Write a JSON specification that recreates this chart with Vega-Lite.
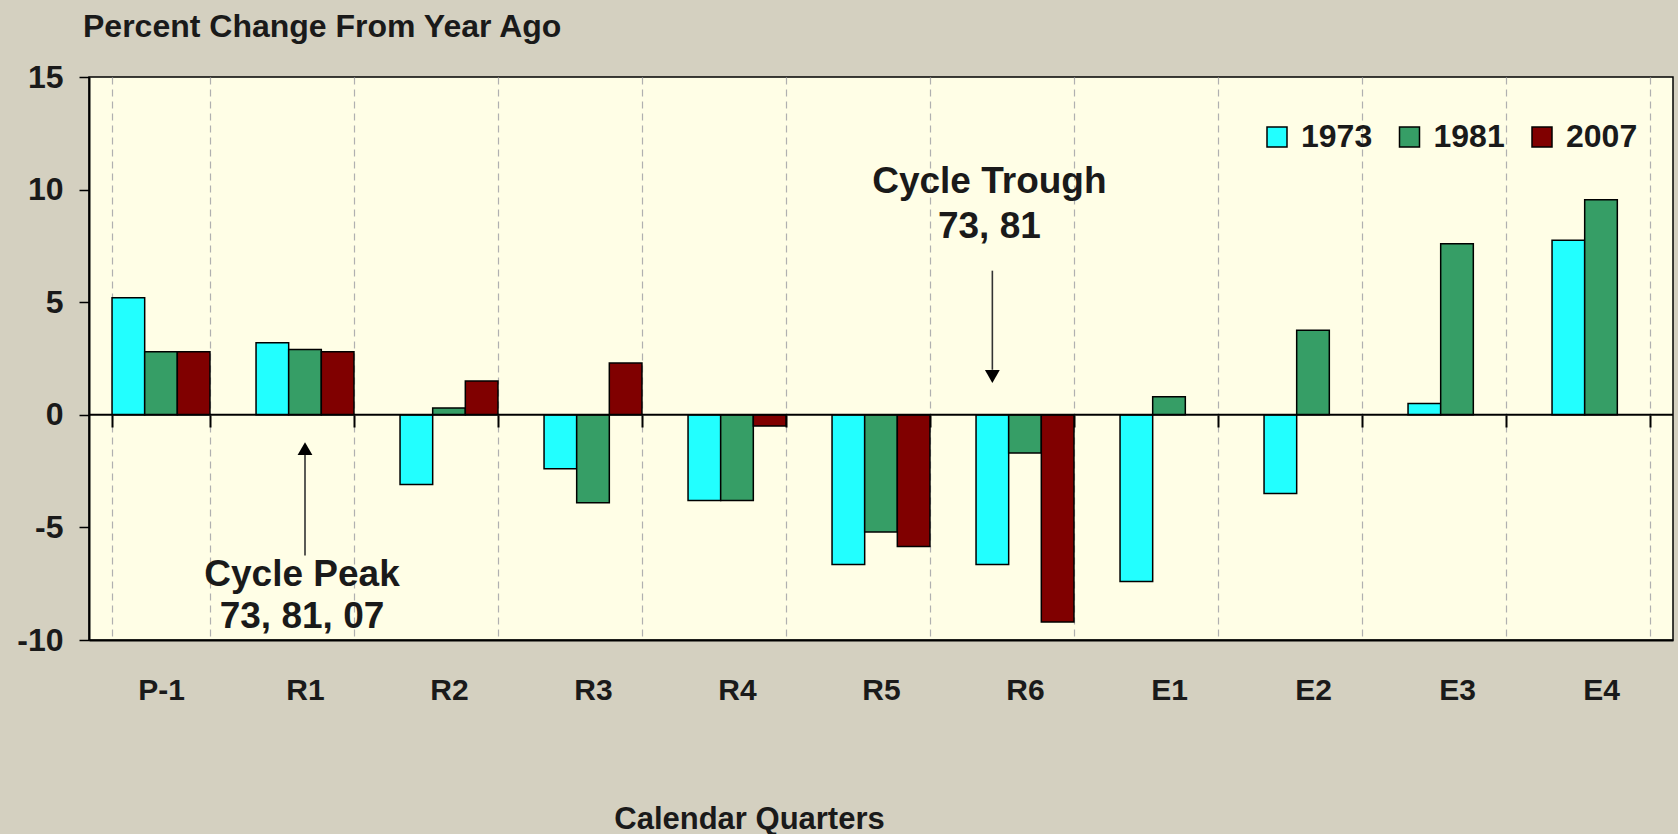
{
  "$schema": "https://vega.github.io/schema/vega-lite/v6.json",
  "width": 1584,
  "height": 563,
  "autosize": {"type": "none"},
  "padding": {"left": 89, "top": 77, "right": 5, "bottom": 194},
  "background": "#d4d0c0",
  "config": {
    "view": {"fill": "#fffee6", "stroke": "#000000", "strokeWidth": 1.5},
    "font": "Liberation Sans"
  },
  "title": {
    "text": "Percent Change From Year Ago",
    "anchor": "start",
    "frame": "group",
    "fontSize": 32,
    "fontWeight": "bold",
    "font": "Liberation Sans",
    "color": "#1a1a1a",
    "baseline": "alphabetic",
    "offset": -8,
    "dx": -6
  },
  "datasets": {
    "bars": [
      {"quarter": "P-1", "series": "1973", "value": 5.2},
      {"quarter": "P-1", "series": "1981", "value": 2.8},
      {"quarter": "P-1", "series": "2007", "value": 2.8},
      {"quarter": "R1", "series": "1973", "value": 3.2},
      {"quarter": "R1", "series": "1981", "value": 2.9},
      {"quarter": "R1", "series": "2007", "value": 2.8},
      {"quarter": "R2", "series": "1973", "value": -3.1},
      {"quarter": "R2", "series": "1981", "value": 0.3},
      {"quarter": "R2", "series": "2007", "value": 1.5},
      {"quarter": "R3", "series": "1973", "value": -2.4},
      {"quarter": "R3", "series": "1981", "value": -3.9},
      {"quarter": "R3", "series": "2007", "value": 2.3},
      {"quarter": "R4", "series": "1973", "value": -3.8},
      {"quarter": "R4", "series": "1981", "value": -3.8},
      {"quarter": "R4", "series": "2007", "value": -0.5},
      {"quarter": "R5", "series": "1973", "value": -6.65},
      {"quarter": "R5", "series": "1981", "value": -5.2},
      {"quarter": "R5", "series": "2007", "value": -5.85},
      {"quarter": "R6", "series": "1973", "value": -6.65},
      {"quarter": "R6", "series": "1981", "value": -1.7},
      {"quarter": "R6", "series": "2007", "value": -9.2},
      {"quarter": "E1", "series": "1973", "value": -7.4},
      {"quarter": "E1", "series": "1981", "value": 0.8},
      {"quarter": "E2", "series": "1973", "value": -3.5},
      {"quarter": "E2", "series": "1981", "value": 3.75},
      {"quarter": "E3", "series": "1973", "value": 0.5},
      {"quarter": "E3", "series": "1981", "value": 7.6},
      {"quarter": "E4", "series": "1973", "value": 7.75},
      {"quarter": "E4", "series": "1981", "value": 9.55}
    ],
    "labels": [
      {"quarter": "R1", "series": "1981", "text": "Cycle Peak", "value": -7.1},
      {"quarter": "R1", "series": "1981", "text": "73, 81, 07", "value": -9.0},
      {"quarter": "R6", "series": "1973", "text": "Cycle Trough", "value": 10.35},
      {"quarter": "R6", "series": "1973", "text": "73, 81", "value": 8.35}
    ],
    "arrows": [
      {"quarter": "R1", "series": "1981", "from": -6.25, "to": -1.7},
      {"quarter": "R6", "series": "1973", "from": 6.4, "to": 2.0}
    ],
    "heads": [
      {"quarter": "R1", "series": "1981", "value": -1.5, "dir": "up"},
      {"quarter": "R6", "series": "1973", "value": 1.7, "dir": "down"}
    ],
    "zero": [{"value": 0}]
  },
  "resolve": {"axis": {"x": "independent"}},
  "layer": [
    {
      "data": {"name": "bars"},
      "mark": {"type": "bar", "stroke": "#000000", "strokeWidth": 1.5},
      "encoding": {
        "x": {
          "field": "quarter",
          "type": "nominal",
          "sort": null,
          "scale": {
            "domain": ["P-1", "R1", "R2", "R3", "R4", "R5", "R6", "E1", "E2", "E3", "E4"],
            "paddingInner": 0.32,
            "paddingOuter": 0.16
          },
          "axis": {
            "title": "Calendar Quarters",
            "titleFontSize": 31,
            "titleFontWeight": "bold",
            "titleColor": "#1a1a1a",
            "titleX": 660,
            "titleY": 179,
            "titleAlign": "center",
            "titleBaseline": "middle",
            "labelAngle": 0,
            "labelFontSize": 30,
            "labelFontWeight": "bold",
            "labelColor": "#1a1a1a",
            "labelBaseline": "middle",
            "labelPadding": 50,
            "ticks": false,
            "domain": true,
            "domainColor": "#000000",
            "domainWidth": 2,
            "grid": true,
            "gridDash": [7, 5],
            "gridColor": "#b0b0b0",
            "gridWidth": 1.2,
            "tickBand": "extent"
          }
        },
        "xOffset": {
          "field": "series",
          "type": "nominal",
          "scale": {"domain": ["1973", "1981", "2007"], "paddingInner": 0, "paddingOuter": 0}
        },
        "y": {
          "field": "value",
          "type": "quantitative",
          "scale": {"domain": [-10, 15], "nice": false, "zero": false},
          "axis": {
            "title": null,
            "values": [-10, -5, 0, 5, 10, 15],
            "labelExpr": "'' + datum.value",
            "labelFontSize": 32,
            "labelFontWeight": "bold",
            "labelColor": "#1a1a1a",
            "labelPadding": 16,
            "tickSize": 10,
            "tickColor": "#000000",
            "tickWidth": 1.5,
            "domainColor": "#000000",
            "domainWidth": 2,
            "grid": false
          }
        },
        "color": {
          "field": "series",
          "type": "nominal",
          "scale": {"domain": ["1973", "1981", "2007"], "range": ["#22ffff", "#369e66", "#800000"]},
          "legend": {
            "title": null,
            "orient": "none",
            "direction": "horizontal",
            "legendX": 1172,
            "legendY": 44,
            "symbolType": "square",
            "symbolSize": 400,
            "symbolStrokeColor": "#000000",
            "symbolStrokeWidth": 1.5,
            "symbolOpacity": 1,
            "labelFontSize": 32,
            "labelFontWeight": "bold",
            "labelColor": "#1a1a1a",
            "labelOffset": 8,
            "columnPadding": 20.5
          }
        }
      }
    },
    {
      "data": {"name": "zero"},
      "mark": {"type": "rule", "color": "#000000", "strokeWidth": 2},
      "encoding": {
        "y": {"field": "value", "type": "quantitative"}
      }
    },
    {
      "data": {"name": "arrows"},
      "mark": {"type": "rule", "color": "#333333", "strokeWidth": 1.6},
      "encoding": {
        "x": {
          "field": "quarter",
          "type": "nominal",
          "sort": null,
          "scale": {"domain": ["P-1", "R1", "R2", "R3", "R4", "R5", "R6", "E1", "E2", "E3", "E4"]},
          "axis": {
            "orient": "bottom",
            "offset": -225,
            "labels": false,
            "title": null,
            "domain": false,
            "grid": false,
            "ticks": true,
            "tickSize": 12,
            "tickColor": "#000000",
            "tickWidth": 2,
            "tickBand": "extent"
          }
        },
        "xOffset": {"field": "series", "type": "nominal", "scale": {"domain": ["1973", "1981", "2007"]}},
        "y": {"field": "from", "type": "quantitative"},
        "y2": {"field": "to"}
      }
    },
    {
      "data": {"name": "heads"},
      "mark": {"type": "point", "filled": true, "color": "#000000", "size": 220, "opacity": 1},
      "encoding": {
        "x": {"field": "quarter", "type": "nominal", "sort": null, "axis": null},
        "xOffset": {"field": "series", "type": "nominal", "scale": {"domain": ["1973", "1981", "2007"]}},
        "y": {"field": "value", "type": "quantitative"},
        "shape": {
          "field": "dir",
          "type": "nominal",
          "scale": {"domain": ["up", "down"], "range": ["triangle-up", "triangle-down"]},
          "legend": null
        }
      }
    },
    {
      "data": {"name": "labels"},
      "mark": {"type": "text", "fontSize": 37, "fontWeight": "bold", "color": "#1a1a1a", "baseline": "middle", "align": "center", "dx": -3},
      "encoding": {
        "x": {"field": "quarter", "type": "nominal", "sort": null, "axis": null},
        "xOffset": {"field": "series", "type": "nominal", "scale": {"domain": ["1973", "1981", "2007"]}},
        "y": {"field": "value", "type": "quantitative"},
        "text": {"field": "text"}
      }
    }
  ]
}
